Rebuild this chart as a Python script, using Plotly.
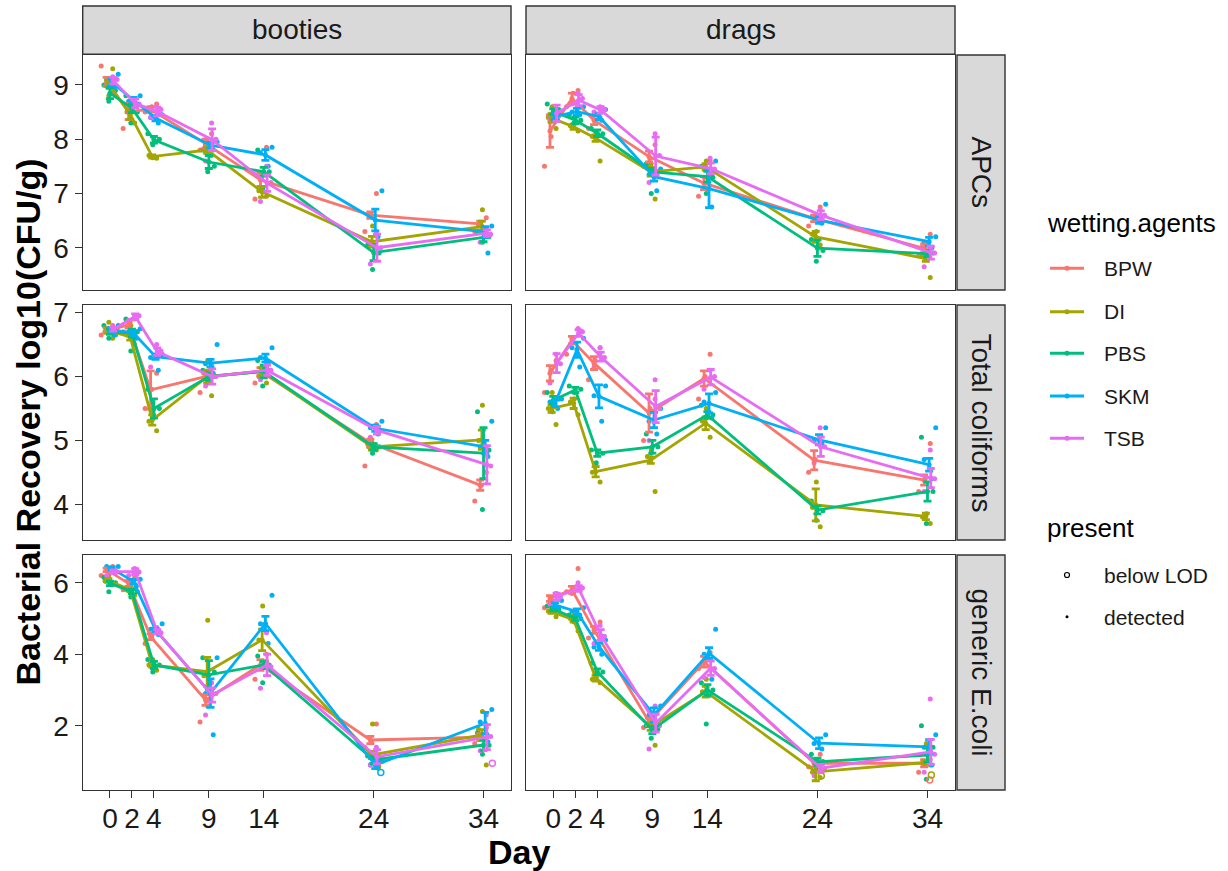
import plotly.graph_objects as go

W, H = 1228, 871

days = [0, 2, 4, 9, 14, 24, 34]
agents = ["BPW", "DI", "PBS", "SKM", "TSB"]
materials = ["booties", "drags"]
measures = ["APCs", "Total coliforms", "generic E.coli"]
agent_colors = {"BPW": "#F8766D", "DI": "#A3A500", "PBS": "#00BF7D", "SKM": "#00B0F6", "TSB": "#E76BF3"}

# ---------------- booties / APCs ----------------
booties_apcs_mean = {
    "BPW": [9.06, 8.51, 8.55, 7.92, 7.25, 6.60, 6.44],
    "DI":  [9.03, 8.45, 7.68, 7.80, 7.03, 6.11, 6.39],
    "PBS": [8.85, 8.57, 7.99, 7.58, 7.40, 5.91, 6.19],
    "SKM": [9.05, 8.72, 8.39, 7.89, 7.71, 6.51, 6.29],
    "TSB": [9.08, 8.66, 8.51, 7.99, 7.19, 6.00, 6.27],
}
booties_apcs_se = {
    "BPW": [0.08, 0.15, 0.05, 0.08, 0.12, 0.06, 0.05],
    "DI":  [0.06, 0.08, 0.03, 0.06, 0.10, 0.10, 0.10],
    "PBS": [0.10, 0.08, 0.06, 0.12, 0.08, 0.15, 0.08],
    "SKM": [0.06, 0.05, 0.05, 0.05, 0.10, 0.20, 0.10],
    "TSB": [0.06, 0.08, 0.08, 0.20, 0.15, 0.25, 0.06],
}
booties_apcs_pts = {
    "BPW": [[9.35, 8.95, 8.85], [8.2, 8.6, 8.75], [8.5, 8.6, 8.65], [7.8, 8.0, 8.1], [6.9, 7.3, 7.85], [6.3, 6.6, 7.0], [6.3, 6.4, 6.55]],
    "DI":  [[9.3, 9.0, 8.8], [8.3, 8.5, 8.6], [7.65, 7.7, 7.66], [7.7, 7.8, 7.9], [6.95, 7.05, 7.1], [5.9, 6.1, 6.4], [6.2, 6.4, 6.7]],
    "PBS": [[8.7, 8.9, 9.0], [8.3, 8.5, 8.8], [7.9, 8.0, 8.1], [7.4, 7.5, 7.8], [7.1, 7.4, 7.8], [5.6, 5.9, 6.05], [6.1, 6.2, 6.3]],
    "SKM": [[8.95, 9.1, 9.2], [8.6, 8.7, 8.8], [8.3, 8.4, 8.45], [7.8, 7.9, 7.95], [7.5, 7.75, 7.85], [6.2, 6.6, 7.05], [5.9, 6.3, 6.4]],
    "TSB": [[9.0, 9.1, 9.15], [8.5, 8.65, 8.75], [8.4, 8.55, 8.6], [7.6, 8.0, 8.3], [6.85, 7.2, 7.5], [5.7, 6.0, 6.3], [6.1, 6.25, 6.35]],
}
booties_apcs_lod = []

# ---------------- drags / APCs ----------------
drags_apcs_mean = {
    "BPW": [8.15, 8.75, 8.35, 7.68, 7.19, 6.54, 5.99],
    "DI":  [8.39, 8.23, 8.02, 7.40, 7.49, 6.20, 5.80],
    "PBS": [8.51, 8.35, 8.11, 7.40, 7.31, 5.99, 5.89],
    "SKM": [8.42, 8.51, 8.42, 7.31, 7.09, 6.51, 6.11],
    "TSB": [8.48, 8.72, 8.54, 7.69, 7.46, 6.60, 5.91],
}
drags_apcs_se = {
    "BPW": [0.30, 0.10, 0.08, 0.10, 0.12, 0.06, 0.08],
    "DI":  [0.08, 0.05, 0.06, 0.08, 0.06, 0.10, 0.05],
    "PBS": [0.05, 0.06, 0.06, 0.06, 0.10, 0.15, 0.06],
    "SKM": [0.06, 0.06, 0.06, 0.08, 0.35, 0.06, 0.08],
    "TSB": [0.15, 0.10, 0.06, 0.35, 0.10, 0.08, 0.12],
}
drags_apcs_pts = {
    "BPW": [[7.5, 8.05, 8.55], [8.6, 8.85, 8.9], [8.2, 8.35, 8.4], [7.5, 7.65, 7.9], [6.95, 7.1, 7.6], [6.4, 6.55, 6.75], [5.85, 6.05, 6.25]],
    "DI":  [[8.2, 8.4, 8.6], [8.15, 8.25, 8.3], [7.6, 8.05, 8.1], [6.9, 7.5, 7.55], [7.35, 7.5, 7.6], [6.05, 6.25, 6.3], [5.45, 5.85, 5.95]],
    "PBS": [[8.45, 8.55, 8.65], [8.3, 8.35, 8.45], [8.0, 8.1, 8.2], [7.0, 7.4, 7.55], [7.0, 7.3, 7.5], [5.75, 5.95, 6.15], [5.85, 5.9, 6.0]],
    "SKM": [[8.35, 8.45, 8.5], [8.45, 8.5, 8.6], [8.35, 8.45, 8.55], [7.05, 7.35, 7.45], [6.75, 7.1, 7.6], [6.45, 6.55, 6.8], [6.0, 6.1, 6.2]],
    "TSB": [[8.35, 8.5, 8.45], [8.65, 8.75, 8.85], [8.5, 8.55, 8.6], [7.2, 7.7, 8.1], [7.3, 7.45, 7.65], [6.5, 6.6, 6.7], [5.65, 5.9, 6.0]],
}
drags_apcs_lod = []

# ---------------- booties / Total coliforms ----------------
booties_tc_mean = {
    "BPW": [6.72, 6.81, 5.79, 6.00, 6.08, 4.96, 4.30],
    "DI":  [6.72, 6.62, 5.32, 6.00, 6.08, 4.90, 5.01],
    "PBS": [6.70, 6.68, 5.50, 6.00, 6.08, 4.90, 4.80],
    "SKM": [6.73, 6.68, 6.31, 6.21, 6.29, 5.19, 4.90],
    "TSB": [6.74, 6.94, 6.39, 6.00, 6.10, 5.16, 4.62],
}
booties_tc_se = {
    "BPW": [0.04, 0.05, 0.30, 0.05, 0.06, 0.06, 0.08],
    "DI":  [0.04, 0.05, 0.08, 0.10, 0.06, 0.05, 0.15],
    "PBS": [0.04, 0.06, 0.15, 0.06, 0.10, 0.05, 0.40],
    "SKM": [0.04, 0.04, 0.04, 0.06, 0.06, 0.05, 0.10],
    "TSB": [0.03, 0.04, 0.06, 0.12, 0.08, 0.06, 0.30],
}
booties_tc_pts = {
    "BPW": [[6.65, 6.75, 6.8], [6.7, 6.85, 6.9], [5.5, 5.8, 6.05], [5.75, 6.0, 6.15], [5.9, 6.1, 6.15], [4.6, 5.0, 5.25], [4.05, 4.3, 4.5]],
    "DI":  [[6.6, 6.7, 6.85], [6.5, 6.65, 6.8], [5.15, 5.3, 5.45], [5.7, 6.05, 6.25], [5.9, 6.0, 6.15], [4.85, 4.9, 4.95], [4.8, 5.0, 5.55]],
    "PBS": [[6.6, 6.65, 6.8], [6.4, 6.7, 6.9], [5.35, 5.5, 5.8], [5.9, 6.0, 6.1], [5.85, 6.1, 6.25], [4.8, 4.9, 4.95], [3.92, 4.85, 5.45]],
    "SKM": [[6.65, 6.75, 6.8], [6.6, 6.7, 6.75], [6.1, 6.3, 6.35], [6.05, 6.2, 6.5], [6.2, 6.3, 6.45], [5.1, 5.2, 5.3], [4.75, 4.9, 5.3]],
    "TSB": [[6.7, 6.75, 6.78], [6.88, 6.95, 6.95], [6.15, 6.4, 6.5], [5.85, 6.0, 6.2], [5.95, 6.1, 6.2], [5.05, 5.15, 5.2], [4.3, 4.6, 4.9]],
}
booties_tc_lod = []

# ---------------- drags / Total coliforms ----------------
drags_tc_mean = {
    "BPW": [6.05, 6.57, 6.21, 5.43, 5.97, 4.69, 4.38],
    "DI":  [5.50, 5.58, 4.51, 4.69, 5.27, 3.99, 3.81],
    "PBS": [5.63, 5.79, 4.80, 4.90, 5.40, 3.91, 4.20],
    "SKM": [5.58, 6.42, 5.69, 5.32, 5.58, 5.01, 4.62],
    "TSB": [6.21, 6.68, 6.31, 5.53, 5.99, 4.90, 4.41],
}
drags_tc_se = {
    "BPW": [0.12, 0.06, 0.10, 0.30, 0.12, 0.15, 0.08],
    "DI":  [0.06, 0.08, 0.08, 0.05, 0.10, 0.25, 0.05],
    "PBS": [0.06, 0.04, 0.05, 0.10, 0.05, 0.06, 0.15],
    "SKM": [0.05, 0.12, 0.18, 0.12, 0.15, 0.08, 0.10],
    "TSB": [0.15, 0.05, 0.07, 0.25, 0.12, 0.15, 0.15],
}
drags_tc_pts = {
    "BPW": [[5.75, 6.1, 6.25], [6.35, 6.6, 6.75], [5.95, 6.25, 6.45], [5.0, 5.5, 5.65], [5.65, 6.0, 6.35], [4.5, 4.7, 4.95], [4.2, 4.4, 4.95]],
    "DI":  [[5.25, 5.5, 5.75], [5.4, 5.6, 5.65], [4.35, 4.5, 4.6], [4.2, 4.75, 4.85], [5.05, 5.3, 5.5], [3.65, 3.95, 4.35], [3.7, 3.8, 3.85]],
    "PBS": [[5.45, 5.65, 5.75], [5.75, 5.8, 5.85], [4.65, 4.8, 4.85], [4.8, 4.9, 5.1], [5.35, 5.4, 5.55], [3.75, 3.9, 4.05], [3.7, 4.2, 5.05]],
    "SKM": [[5.5, 5.6, 5.65], [6.15, 6.45, 6.6], [5.3, 5.7, 5.85], [5.1, 5.3, 5.5], [5.35, 5.6, 5.75], [4.95, 5.0, 5.2], [4.4, 4.7, 5.2]],
    "TSB": [[5.9, 6.2, 6.35], [6.6, 6.7, 6.75], [6.15, 6.3, 6.45], [5.0, 5.5, 5.95], [5.8, 6.0, 6.1], [4.65, 4.9, 5.2], [4.2, 4.4, 4.85]],
}
drags_tc_lod = []

# ---------------- booties / generic E.coli ----------------
booties_ecoli_mean = {
    "BPW": [6.36, 5.98, 4.49, 2.72, 3.70, 1.60, 1.68],
    "DI":  [6.06, 5.80, 3.70, 3.51, 4.40, 1.18, 1.74],
    "PBS": [5.98, 5.75, 3.70, 3.42, 3.70, 1.04, 1.46],
    "SKM": [6.40, 6.03, 4.68, 2.91, 4.86, 0.90, 2.07],
    "TSB": [6.31, 6.31, 4.63, 2.86, 3.70, 1.13, 1.68],
}
booties_ecoli_se = {
    "BPW": [0.05, 0.08, 0.08, 0.15, 0.15, 0.10, 0.10],
    "DI":  [0.05, 0.05, 0.06, 0.40, 0.30, 0.10, 0.15],
    "PBS": [0.06, 0.06, 0.10, 0.40, 0.10, 0.10, 0.15],
    "SKM": [0.04, 0.06, 0.05, 0.40, 0.20, 0.10, 0.30],
    "TSB": [0.05, 0.08, 0.06, 0.20, 0.30, 0.20, 0.35],
}
booties_ecoli_pts = {
    "BPW": [[6.2, 6.4, 6.45], [5.8, 6.0, 6.15], [4.3, 4.5, 4.65], [2.1, 2.7, 3.0], [3.3, 3.7, 4.0], [1.4, 1.55, 2.05], [1.5, 1.7, 1.95]],
    "DI":  [[5.95, 6.05, 6.2], [5.65, 5.8, 5.9], [3.55, 3.7, 3.85], [2.9, 3.4, 4.95], [3.8, 4.4, 5.35], [1.0, 1.2, 2.05], [0.9, 1.9, 2.4]],
    "PBS": [[5.75, 6.0, 6.15], [5.6, 5.75, 5.85], [3.5, 3.7, 3.85], [2.55, 3.5, 3.9], [3.2, 3.7, 3.95], [0.95, 1.0, 1.15], [1.2, 1.45, 1.8]],
    "SKM": [[6.3, 6.45, 6.45], [5.9, 6.05, 6.1], [4.55, 4.7, 4.85], [1.75, 2.9, 3.9], [4.3, 4.85, 5.65], [0.85, 0.9, 1.0], [1.55, 2.1, 2.45]],
    "TSB": [[6.2, 6.3, 6.4], [6.2, 6.3, 6.4], [4.55, 4.6, 4.75], [2.3, 2.9, 3.2], [3.05, 3.65, 4.6], [0.9, 1.1, 1.4], [1.3, 1.7, 2.3]],
}
booties_ecoli_lod = [("SKM", 24, 0.69), ("DI", 24, 0.85), ("TSB", 34, 0.95)]

# ---------------- drags / generic E.coli ----------------
drags_ecoli_mean = {
    "BPW": [5.56, 5.80, 4.68, 2.11, 3.79, 0.95, 0.95],
    "DI":  [5.19, 4.96, 3.33, 1.97, 2.95, 0.71, 0.97],
    "PBS": [5.26, 5.00, 3.51, 1.88, 3.00, 0.99, 1.18],
    "SKM": [5.38, 5.19, 4.21, 2.30, 4.03, 1.51, 1.41],
    "TSB": [5.61, 5.84, 4.54, 2.07, 3.61, 0.81, 1.27],
}
drags_ecoli_se = {
    "BPW": [0.08, 0.10, 0.10, 0.10, 0.15, 0.10, 0.10],
    "DI":  [0.05, 0.06, 0.08, 0.10, 0.15, 0.25, 0.05],
    "PBS": [0.05, 0.06, 0.08, 0.10, 0.15, 0.10, 0.20],
    "SKM": [0.06, 0.08, 0.10, 0.20, 0.15, 0.15, 0.20],
    "TSB": [0.10, 0.08, 0.15, 0.25, 0.20, 0.10, 0.35],
}
drags_ecoli_pts = {
    "BPW": [[5.3, 5.55, 5.7], [5.75, 5.85, 6.4], [4.45, 4.7, 4.9], [1.95, 2.1, 2.3], [3.6, 3.8, 4.05], [0.85, 0.95, 1.2], [0.7, 0.95, 1.05]],
    "DI":  [[5.05, 5.2, 5.3], [4.65, 5.0, 5.1], [3.2, 3.3, 3.5], [1.45, 2.0, 2.2], [2.85, 2.95, 3.3], [0.55, 0.7, 0.85], [0.9, 0.95, 1.5]],
    "PBS": [[5.2, 5.25, 5.35], [4.9, 5.0, 5.1], [3.35, 3.5, 3.75], [1.65, 1.9, 2.0], [2.05, 3.0, 3.2], [0.8, 1.0, 1.2], [0.5, 1.4, 2.0]],
    "SKM": [[5.3, 5.4, 5.5], [5.1, 5.2, 5.3], [4.0, 4.2, 4.4], [2.1, 2.3, 2.55], [3.3, 4.0, 4.7], [1.35, 1.5, 1.75], [0.9, 1.4, 1.75]],
    "TSB": [[5.4, 5.6, 5.7], [5.7, 5.85, 6.0], [4.3, 4.5, 4.8], [1.35, 2.0, 2.55], [3.35, 3.6, 3.85], [0.6, 0.8, 1.0], [0.7, 1.2, 2.75]],
}
drags_ecoli_lod = [("DI", 24, 0.59), ("BPW", 34, 0.48), ("DI", 34, 0.62)]

y_tick_values = [[6, 7, 8, 9], [4, 5, 6, 7], [2, 4, 6]]

panels = [
    [(booties_apcs_mean, booties_apcs_se, booties_apcs_pts, booties_apcs_lod),
     (drags_apcs_mean, drags_apcs_se, drags_apcs_pts, drags_apcs_lod)],
    [(booties_tc_mean, booties_tc_se, booties_tc_pts, booties_tc_lod),
     (drags_tc_mean, drags_tc_se, drags_tc_pts, drags_tc_lod)],
    [(booties_ecoli_mean, booties_ecoli_se, booties_ecoli_pts, booties_ecoli_lod),
     (drags_ecoli_mean, drags_ecoli_se, drags_ecoli_pts, drags_ecoli_lod)],
]

# ---------------- layout geometry (pixels) ----------------
col_px = [(82.7, 511.0), (526.0, 955.0)]
row_px = [(55.0, 290.0), (305.0, 540.0), (555.0, 790.0)]
y_ranges = [[5.22, 9.553], [3.441, 7.12], [0.201, 6.775]]
x_range = [-2.48, 36.5]
dodge = {"BPW": -0.3, "DI": -0.15, "PBS": 0.0, "SKM": 0.15, "TSB": 0.3}
jitter = {"BPW": [-0.5, 0.1, 0.55], "DI": [0.4, -0.3, 0.05], "PBS": [-0.1, 0.5, -0.55],
          "SKM": [0.25, -0.45, 0.6], "TSB": [-0.6, 0.35, -0.05]}

def px(x):
    return x / W

def py(y):
    return 1 - y / H

FONT = "Liberation Sans, Arial, Helvetica, sans-serif"
BORDER = "#333333"

fig = go.Figure()
layout_axes = {}

for r in range(3):
    for c in range(2):
        k = r * 2 + c + 1
        xref = "x" if k == 1 else f"x{k}"
        yref = "y" if k == 1 else f"y{k}"
        mean, se, pts, lod = panels[r][c]
        # raw points
        for a in agents:
            xs, ys = [], []
            for di, d in enumerate(days):
                for ri, v in enumerate(pts[a][di]):
                    xs.append(d + dodge[a] + jitter[a][ri % 3])
                    ys.append(v)
            fig.add_trace(go.Scatter(x=xs, y=ys, mode="markers", xaxis=xref, yaxis=yref,
                                     marker=dict(size=5, color=agent_colors[a]),
                                     showlegend=False, hoverinfo="skip"))
        # below-LOD points
        if lod:
            for a in agents:
                xs = [d + dodge[a] + 0.5 for (ag, d, v) in lod if ag == a]
                ys = [v for (ag, d, v) in lod if ag == a]
                if xs:
                    fig.add_trace(go.Scatter(x=xs, y=ys, mode="markers", xaxis=xref, yaxis=yref,
                                             marker=dict(size=6, symbol="circle-open", color=agent_colors[a],
                                                         line=dict(width=1.5)),
                                             showlegend=False, hoverinfo="skip"))
        # mean lines + error bars
        for a in agents:
            fig.add_trace(go.Scatter(
                x=[d + dodge[a] for d in days], y=mean[a], mode="lines+markers",
                xaxis=xref, yaxis=yref,
                line=dict(color=agent_colors[a], width=2.8),
                marker=dict(size=5, color=agent_colors[a]),
                error_y=dict(type="data", array=se[a], visible=True, color=agent_colors[a],
                             thickness=2.8, width=4),
                showlegend=False, name=a))

        x0, x1 = col_px[c]
        y0, y1 = row_px[r]
        bottom = (r == 2)
        left = (c == 0)
        layout_axes["xaxis" if k == 1 else f"xaxis{k}"] = dict(
            domain=[px(x0), px(x1)], anchor=yref, range=x_range, automargin=False,
            showline=True, mirror=True, linecolor=BORDER, linewidth=1.4,
            showgrid=False, zeroline=False,
            tickmode="array", tickvals=days, ticktext=[str(d) for d in days],
            ticks="outside" if bottom else "", ticklen=7, tickwidth=1.4, tickcolor=BORDER,
            ticklabelstandoff=-4,
            showticklabels=bottom, tickfont=dict(family=FONT, size=28, color="#1a1a1a"),
        )
        layout_axes["yaxis" if k == 1 else f"yaxis{k}"] = dict(
            domain=[py(y1), py(y0)], anchor=xref, range=y_ranges[r], automargin=False,
            showline=True, mirror=True, linecolor=BORDER, linewidth=1.4,
            showgrid=False, zeroline=False,
            tickmode="array", tickvals=y_tick_values[r], ticktext=[str(t) for t in y_tick_values[r]],
            ticks="outside" if left else "", ticklen=7, tickwidth=1.4, tickcolor=BORDER,
            showticklabels=left, tickfont=dict(family=FONT, size=28, color="#1a1a1a"),
        )

shapes = []
annotations = []

# top strips
for c, name in enumerate(materials):
    x0, x1 = col_px[c]
    shapes.append(dict(type="rect", xref="paper", yref="paper", x0=px(x0), x1=px(x1), y0=py(54.3), y1=py(6),
                       fillcolor="#D9D9D9", line=dict(color=BORDER, width=1.4), layer="below"))
    annotations.append(dict(xref="paper", yref="paper", x=px((x0 + x1) / 2), y=py(30), text=name,
                            showarrow=False, xanchor="center", yanchor="middle",
                            font=dict(family=FONT, size=28, color="#1a1a1a")))
# right strips
for r, name in enumerate(measures):
    y0, y1 = row_px[r]
    shapes.append(dict(type="rect", xref="paper", yref="paper", x0=px(957), x1=px(1005), y0=py(y1), y1=py(y0),
                       fillcolor="#D9D9D9", line=dict(color=BORDER, width=1.4), layer="below"))
    annotations.append(dict(xref="paper", yref="paper", x=px(981), y=py((y0 + y1) / 2), text=name,
                            showarrow=False, xanchor="center", yanchor="middle", textangle=90,
                            font=dict(family=FONT, size=28, color="#1a1a1a")))

# axis titles
annotations.append(dict(xref="paper", yref="paper", x=px(518.9), y=py(852), text="<b>Day</b>",
                        showarrow=False, xanchor="center", yanchor="middle",
                        font=dict(family=FONT, size=34, color="black")))
annotations.append(dict(xref="paper", yref="paper", x=px(28), y=py(422.5),
                        text="<b>Bacterial Recovery log10(CFU/g)</b>", textangle=-90,
                        showarrow=False, xanchor="center", yanchor="middle",
                        font=dict(family=FONT, size=34, color="black")))

# manual legend
annotations.append(dict(xref="paper", yref="paper", x=px(1045), y=py(223), text="wetting.agents",
                        showarrow=False, xanchor="left", yanchor="middle",
                        font=dict(family=FONT, size=26, color="black")))
leg_y = [268.3, 311.7, 353.3, 396.0, 438.3]
for a, yy in zip(agents, leg_y):
    shapes.append(dict(type="line", xref="paper", yref="paper", x0=px(1050), x1=px(1084), y0=py(yy), y1=py(yy),
                       line=dict(color=agent_colors[a], width=3)))
    shapes.append(dict(type="circle", xref="paper", yref="paper", x0=px(1064.5), x1=px(1069.5),
                       y0=py(yy + 2.5), y1=py(yy - 2.5), fillcolor=agent_colors[a],
                       line=dict(color=agent_colors[a], width=0)))
    annotations.append(dict(xref="paper", yref="paper", x=px(1102), y=py(yy), text=a,
                            showarrow=False, xanchor="left", yanchor="middle",
                            font=dict(family=FONT, size=21, color="#1a1a1a")))

annotations.append(dict(xref="paper", yref="paper", x=px(1045), y=py(528), text="present",
                        showarrow=False, xanchor="left", yanchor="middle",
                        font=dict(family=FONT, size=26, color="black")))
shapes.append(dict(type="circle", xref="paper", yref="paper", x0=px(1064.5), x1=px(1069.5),
                   y0=py(577.5), y1=py(572.5), fillcolor="white", line=dict(color="black", width=1.2)))
annotations.append(dict(xref="paper", yref="paper", x=px(1102), y=py(575), text="below LOD",
                        showarrow=False, xanchor="left", yanchor="middle",
                        font=dict(family=FONT, size=21, color="#1a1a1a")))
shapes.append(dict(type="circle", xref="paper", yref="paper", x0=px(1065.5), x1=px(1068.5),
                   y0=py(618.2), y1=py(615.2), fillcolor="black", line=dict(color="black", width=0)))
annotations.append(dict(xref="paper", yref="paper", x=px(1102), y=py(617), text="detected",
                        showarrow=False, xanchor="left", yanchor="middle",
                        font=dict(family=FONT, size=21, color="#1a1a1a")))

fig.update_layout(
    width=W, height=H, autosize=False,
    margin=dict(l=0, r=0, t=0, b=0, pad=0, autoexpand=False),
    paper_bgcolor="white", plot_bgcolor="white",
    showlegend=False,
    shapes=shapes, annotations=annotations,
    font=dict(family=FONT),
    **layout_axes,
)

fig.write_html("out.html")
